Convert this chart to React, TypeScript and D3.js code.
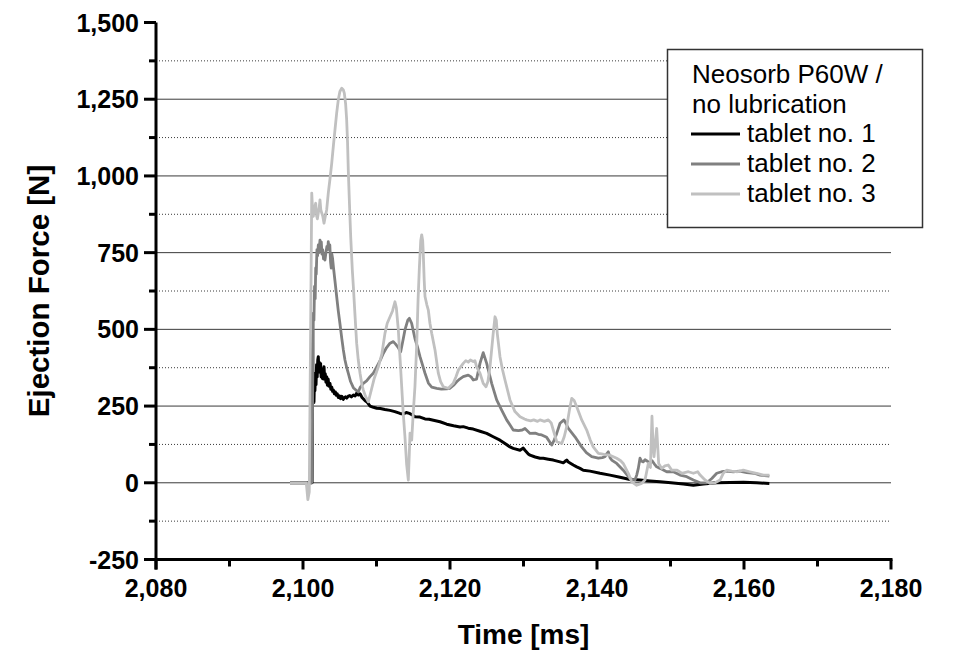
import React from 'react';
import * as d3 from 'd3';

// tablet no. 1 (black)
const t1 = [2098.23, 2101.23, 2101.30, 2101.36, 2101.43, 2101.49, 2101.55, 2101.62, 2101.70, 2101.77, 2101.85, 2101.93, 2102.01, 2102.08, 2102.15, 2102.24, 2102.31, 2102.39, 2102.47, 2102.55, 2102.63, 2102.71, 2102.79, 2102.86, 2102.94, 2103.03, 2103.12, 2103.22, 2103.32, 2103.42, 2103.52, 2103.67, 2103.79, 2103.91, 2104.03, 2104.13, 2104.27, 2104.40, 2104.52, 2104.65, 2104.81, 2104.97, 2105.12, 2105.28, 2105.49, 2105.64, 2105.80, 2105.95, 2106.16, 2106.37, 2106.58, 2106.85, 2107.09, 2107.30, 2107.53, 2107.76, 2108.03, 2108.43, 2108.75, 2109.12, 2109.59, 2110.03, 2110.52, 2111.14, 2111.84, 2112.49, 2113.20, 2113.63, 2114.05, 2114.47, 2114.88, 2115.23, 2115.92, 2116.60, 2117.16, 2117.74, 2118.64, 2119.55, 2120.49, 2121.36, 2121.80, 2122.48, 2123.16, 2124.08, 2124.99, 2125.88, 2126.80, 2127.48, 2128.16, 2128.60, 2129.53, 2129.97, 2130.20, 2130.65, 2130.89, 2131.59, 2132.25, 2132.69, 2133.38, 2134.05, 2134.97, 2135.41, 2135.66, 2135.88, 2136.10, 2136.77, 2137.24, 2137.69, 2138.13, 2139.05, 2140.41, 2141.77, 2143.13, 2144.49, 2145.85, 2147.21, 2148.57, 2150.07, 2151.74, 2153.11, 2154.47, 2156.29, 2158.10, 2159.93, 2161.73, 2163.45];
const f1 = [0, 0, 503, 280, 300, 262, 330, 300, 357, 320, 385, 345, 400, 411, 370, 392, 360, 389, 345, 372, 340, 365, 338, 378, 340, 355, 328, 346, 318, 338, 315, 324, 305, 312, 298, 302, 290, 296, 285, 290, 278, 283, 274, 282, 272, 278, 280, 276, 282, 284, 280, 286, 283, 292, 286, 290, 278, 268, 262, 250, 246, 243, 242, 239, 236, 232, 226, 224, 229, 226, 221, 215, 214, 208, 207, 204, 199, 191, 186, 182, 183, 178, 175, 168, 161, 150, 139, 128, 117, 112, 106, 113, 106, 94, 90, 84, 80, 80, 77, 74, 68, 65, 70, 74, 68, 58, 52, 47, 41, 38, 31, 25, 18, 11, 9, 6, 3, 0, -4, -8, -4, 0, 1, 2, 0, -2];

// tablet no. 2 (dark grey)
const t2 = [2098.23, 2101.18, 2101.28, 2101.41, 2101.49, 2101.57, 2101.66, 2101.73, 2101.80, 2101.90, 2101.99, 2102.08, 2102.16, 2102.31, 2102.40, 2102.49, 2102.58, 2102.68, 2102.79, 2102.89, 2102.99, 2103.12, 2103.25, 2103.36, 2103.44, 2103.54, 2103.65, 2103.75, 2103.84, 2103.93, 2104.03, 2104.13, 2104.34, 2104.58, 2104.80, 2105.02, 2105.28, 2105.49, 2105.71, 2105.95, 2106.16, 2106.47, 2106.85, 2107.30, 2107.52, 2107.76, 2108.21, 2108.65, 2109.12, 2109.59, 2110.03, 2110.52, 2110.94, 2111.35, 2111.84, 2112.29, 2112.60, 2112.97, 2113.29, 2113.63, 2113.87, 2114.26, 2114.47, 2114.78, 2115.23, 2115.61, 2115.92, 2116.60, 2117.06, 2117.51, 2118.19, 2118.83, 2119.55, 2120.00, 2120.49, 2120.91, 2121.32, 2121.80, 2122.48, 2122.87, 2123.16, 2123.62, 2124.08, 2124.52, 2124.99, 2125.67, 2126.35, 2127.03, 2127.71, 2128.17, 2128.60, 2129.31, 2129.83, 2130.20, 2130.89, 2131.59, 2132.01, 2132.48, 2133.15, 2133.84, 2134.19, 2134.52, 2134.97, 2135.51, 2135.85, 2136.10, 2137.00, 2137.92, 2138.55, 2139.28, 2140.18, 2140.73, 2141.08, 2141.35, 2141.54, 2141.77, 2142.00, 2142.68, 2143.57, 2144.49, 2145.16, 2145.40, 2145.62, 2145.85, 2146.08, 2146.29, 2146.54, 2146.75, 2147.21, 2147.48, 2147.79, 2148.12, 2148.57, 2149.48, 2150.38, 2151.30, 2152.21, 2153.11, 2154.03, 2154.93, 2155.62, 2156.29, 2156.97, 2157.65, 2158.54, 2159.42, 2160.37, 2161.39, 2162.18, 2163.45];
const f2 = [0, 0, 200, 553, 530, 640, 600, 700, 680, 760, 740, 775, 750, 791, 765, 785, 745, 760, 730, 745, 726, 750, 770, 760, 786, 765, 775, 720, 700, 745, 730, 705, 660, 607, 560, 520, 470, 433, 400, 375, 357, 330, 310, 300, 296, 310, 324, 332, 346, 358, 378, 400, 422, 440, 455, 460, 452, 440, 427, 468, 498, 530, 536, 520, 470, 440, 411, 357, 325, 312, 308, 305, 306, 308, 318, 329, 338, 346, 351, 345, 335, 338, 389, 424, 389, 324, 270, 237, 205, 188, 172, 170, 172, 177, 161, 162, 158, 156, 148, 123, 140, 161, 194, 205, 190, 177, 150, 117, 98, 85, 80, 82, 85, 95, 101, 82, 74, 63, 41, 14, 9, 25, 47, 80, 70, 68, 75, 72, 63, 72, 62, 52, 47, 36, 36, 25, 20, 9, 0, 0, 14, 31, 36, 38, 36, 38, 33, 31, 25, 22];

// tablet no. 3 (light grey)
const t3 = [2098.23, 2100.45, 2100.66, 2100.85, 2101.02, 2101.19, 2101.28, 2101.41, 2101.54, 2101.73, 2101.85, 2101.96, 2102.08, 2102.22, 2102.31, 2102.42, 2102.55, 2102.68, 2102.86, 2103.05, 2103.22, 2103.44, 2103.67, 2103.91, 2104.14, 2104.35, 2104.58, 2104.80, 2105.02, 2105.27, 2105.49, 2105.62, 2105.80, 2105.94, 2106.06, 2106.16, 2106.32, 2106.49, 2106.71, 2106.85, 2107.09, 2107.30, 2107.52, 2107.76, 2108.03, 2108.21, 2108.50, 2108.89, 2109.27, 2109.69, 2110.25, 2110.73, 2111.15, 2111.46, 2111.84, 2112.18, 2112.51, 2112.70, 2112.97, 2113.22, 2113.43, 2113.63, 2113.87, 2114.10, 2114.33, 2114.47, 2114.56, 2114.79, 2114.98, 2115.23, 2115.47, 2115.66, 2115.83, 2116.02, 2116.15, 2116.28, 2116.36, 2116.49, 2116.60, 2116.85, 2117.05, 2117.27, 2117.51, 2117.96, 2118.41, 2118.72, 2119.08, 2119.77, 2120.44, 2120.80, 2121.13, 2121.80, 2122.15, 2122.48, 2122.77, 2123.16, 2123.39, 2123.62, 2124.08, 2124.52, 2124.90, 2125.16, 2125.44, 2125.88, 2126.12, 2126.30, 2126.43, 2126.80, 2127.13, 2127.48, 2128.16, 2128.84, 2129.53, 2130.14, 2130.43, 2130.97, 2131.39, 2131.91, 2132.25, 2132.84, 2133.38, 2133.77, 2134.05, 2134.52, 2135.20, 2135.54, 2135.88, 2136.27, 2136.56, 2136.89, 2137.24, 2137.92, 2138.60, 2139.07, 2139.49, 2140.18, 2140.63, 2141.08, 2141.77, 2142.68, 2143.22, 2143.57, 2144.26, 2144.72, 2145.40, 2146.08, 2146.54, 2146.98, 2147.27, 2147.48, 2147.63, 2147.76, 2148.12, 2148.39, 2148.80, 2149.24, 2149.70, 2150.17, 2150.90, 2151.53, 2152.44, 2153.11, 2153.71, 2154.03, 2154.70, 2155.38, 2156.06, 2156.74, 2157.18, 2157.65, 2158.33, 2159.10, 2159.90, 2160.77, 2161.73, 2162.63, 2163.45];
const f3 = [0, 0, -55, -30, 450, 944, 900, 868, 895, 911, 870, 860, 879, 900, 922, 890, 879, 870, 846, 870, 889, 944, 990, 1042, 1100, 1150, 1205, 1248, 1275, 1286, 1280, 1270, 1235, 1183, 1110, 1020, 910, 802, 693, 640, 540, 455, 400, 357, 318, 302, 282, 264, 300, 340, 378, 420, 487, 520, 541, 560, 590, 570, 498, 400, 313, 230, 150, 60, 9, 100, 162, 139, 220, 313, 450, 600, 700, 790, 808, 790, 750, 660, 607, 580, 563, 520, 487, 433, 357, 330, 313, 308, 324, 345, 367, 389, 398, 393, 400, 395, 398, 378, 357, 324, 313, 330, 378, 487, 541, 530, 487, 411, 370, 335, 270, 232, 215, 208, 205, 202, 205, 200, 205, 200, 205, 195, 172, 134, 128, 150, 183, 240, 275, 268, 248, 205, 172, 140, 117, 96, 94, 92, 90, 80, 72, 63, 31, 3, -8, -2, 10, 63, 50, 217, 120, 85, 177, 63, 47, 55, 58, 41, 41, 31, 36, 31, 36, 25, 9, -2, 0, 9, 31, 41, 38, 36, 41, 36, 31, 25, 25];

const xTicks = [2080, 2100, 2120, 2140, 2160, 2180];
const xMinorTicks = [2090, 2110, 2130, 2150, 2170];
const yTicks = [-250, 0, 250, 500, 750, 1000, 1250, 1500];
const yMinorTicks = [-125, 125, 375, 625, 875, 1125, 1375];
const legendTitle = ['Neosorb P60W /', 'no lubrication'];
const seriesNames = ['tablet no. 1', 'tablet no. 2', 'tablet no. 3'];
const seriesColors = ['#000000', '#808080', '#c0c0c0'];

const FONT = '"Liberation Sans", Arial, Helvetica, sans-serif';

export default function App() {
  const x = d3.scaleLinear().domain([2080, 2180]).range([156, 891]);
  const y = d3.scaleLinear().domain([-250, 1500]).range([559.5, 22.5]);
  const fmt0 = d3.format(',');
  const fmt = (v: number) => fmt0(v).replace('\u2212', '-');
  const series = [
    { t: t1, f: f1 },
    { t: t2, f: f2 },
    { t: t3, f: f3 },
  ];
  const line = d3
    .line<[number, number]>()
    .x((d) => x(d[0]))
    .y((d) => y(d[1]));
  const x0 = x(2080);
  const x1 = x(2180);
  const yBottom = y(-250);
  const yTop = y(1500);
  const legendBase = [82.5, 112.5];
  const entryBase = [142, 172, 202];

  return (
    <svg
      width={953}
      height={653}
      style={{ position: 'absolute', left: 0, top: 0, background: '#fff' }}
      fontFamily={FONT}
    >
      <rect x={0} y={0} width={953} height={653} fill="#fff" />
      {/* grid */}
      {yTicks
        .filter((v) => v !== -250 && v !== 1500)
        .map((v) => (
          <line key={'g' + v} x1={x0} x2={x1} y1={y(v)} y2={y(v)} stroke="#3a3a3a" strokeWidth={1} />
        ))}
      {yMinorTicks.map((v) => (
        <line
          key={'gm' + v}
          x1={x0}
          x2={x1}
          y1={y(v)}
          y2={y(v)}
          stroke="#3a3a3a"
          strokeWidth={1}
          strokeDasharray="1,2"
        />
      ))}
      {/* series */}
      {series.map((s, i) => (
        <path
          key={'s' + i}
          d={line(s.t.map((t, j) => [t, s.f[j]] as [number, number])) || ''}
          fill="none"
          stroke={seriesColors[i]}
          strokeWidth={i === 0 ? 3 : 2.8}
          strokeLinejoin="round"
        />
      ))}
      {/* axes */}
      <line x1={x0} x2={x0} y1={yTop} y2={yBottom + 10} stroke="#000" strokeWidth={3} />
      <line x1={x0 - 1.5} x2={x1 + 1.5} y1={yBottom} y2={yBottom} stroke="#000" strokeWidth={3} />
      {yTicks.map((v) => (
        <g key={'yt' + v}>
          <line x1={x0 - 12} x2={x0} y1={y(v)} y2={y(v)} stroke="#000" strokeWidth={3} />
          <text x={x0 - 17} y={y(v) + 9} textAnchor="end" fontSize={25} fontWeight="bold">
            {fmt(v)}
          </text>
        </g>
      ))}
      {yMinorTicks.map((v) => (
        <line key={'ymt' + v} x1={x0 - 7} x2={x0} y1={y(v)} y2={y(v)} stroke="#000" strokeWidth={3} />
      ))}
      {xTicks.map((v) => (
        <g key={'xt' + v}>
          <line x1={x(v)} x2={x(v)} y1={yBottom} y2={yBottom + 10} stroke="#000" strokeWidth={3} />
          <text x={x(v)} y={yBottom + 37} textAnchor="middle" fontSize={25} fontWeight="bold">
            {fmt(v)}
          </text>
        </g>
      ))}
      {xMinorTicks.map((v) => (
        <line key={'xmt' + v} x1={x(v)} x2={x(v)} y1={yBottom} y2={yBottom + 7} stroke="#000" strokeWidth={3} />
      ))}
      {/* axis titles */}
      <text x={(x0 + x1) / 2} y={644} textAnchor="middle" fontSize={28} fontWeight="bold">
        Time [ms]
      </text>
      <text
        transform={`translate(49,${(yTop + yBottom) / 2}) rotate(-90)`}
        textAnchor="middle"
        fontSize={29.5}
        fontWeight="bold"
      >
        Ejection Force [N]
      </text>
      {/* legend */}
      <rect x={667.5} y={49.5} width={255} height={178} fill="#fff" stroke="#333" strokeWidth={1.5} />
      {legendTitle.map((s, i) => (
        <text key={'lt' + i} x={692} y={legendBase[i]} fontSize={26}>
          {s}
        </text>
      ))}
      {seriesNames.map((s, i) => (
        <g key={'le' + i}>
          <line
            x1={691}
            x2={740}
            y1={entryBase[i] - 8}
            y2={entryBase[i] - 8}
            stroke={seriesColors[i]}
            strokeWidth={3}
          />
          <text x={747} y={entryBase[i]} fontSize={26}>
            {s}
          </text>
        </g>
      ))}
    </svg>
  );
}
